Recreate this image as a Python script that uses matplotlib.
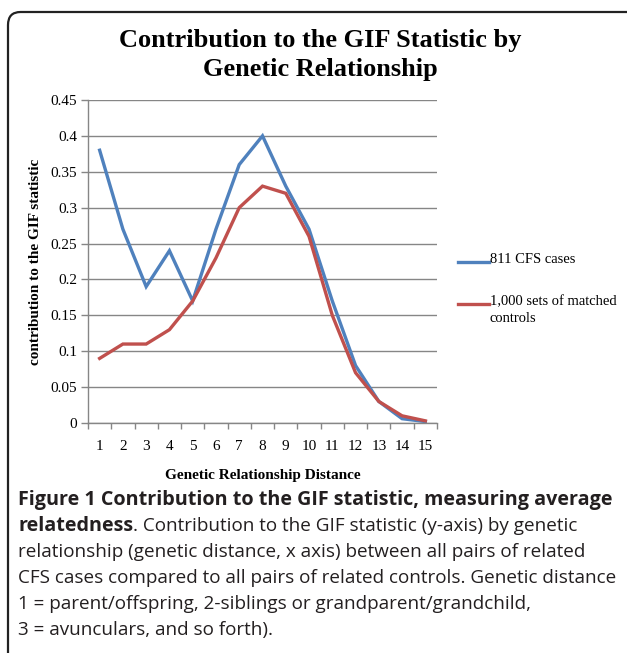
import matplotlib
matplotlib.use('Agg')
import matplotlib.pyplot as plt
from matplotlib.patches import FancyBboxPatch
from matplotlib.lines import Line2D
import numpy as np

# data
distance = list(range(1, 16))
cfs_cases = [0.38, 0.27, 0.19, 0.24, 0.17, 0.27, 0.36, 0.40, 0.33, 0.27,
             0.17, 0.08, 0.03, 0.006, 0.002]
controls = [0.09, 0.11, 0.11, 0.13, 0.17, 0.23, 0.30, 0.33, 0.32, 0.26,
            0.15, 0.07, 0.03, 0.01, 0.003]
series_names = ['811 CFS cases', '1,000 sets of matched\ncontrols']
yticks = np.arange(0, 0.451, 0.05)
ytick_labels = ['0', '0.05', '0.1', '0.15', '0.2', '0.25', '0.3', '0.35', '0.4', '0.45']

title = 'Contribution to the GIF Statistic by\nGenetic Relationship'
caption_bold = 'Figure 1 Contribution to the GIF statistic, measuring average'
caption_bold2 = 'relatedness'
caption_rest = ['. Contribution to the GIF statistic (y-axis) by genetic',
                'relationship (genetic distance, x axis) between all pairs of related',
                'CFS cases compared to all pairs of related controls. Genetic distance',
                '1 = parent/offspring, 2-siblings or grandparent/grandchild,',
                '3 = avunculars, and so forth).']

W, H = 627, 653
fig = plt.figure(figsize=(W / 100, H / 100), dpi=100)
serif = 'Liberation Serif'
sans = 'Open Sans'

# rounded frame (bottom and right run off the picture)
frame = FancyBboxPatch((8 / W, 1 - 700 / H), 700 / W, 688 / H,
                       boxstyle='round,pad=0,rounding_size=0.02',
                       transform=fig.transFigure, fill=False,
                       edgecolor='#222222', linewidth=1.6)
fig.patches.append(frame)

ax = fig.add_axes([88 / W, 1 - 423 / H, 349 / W, 323 / H])
blue, red = '#4f81bd', '#c0504d'
ax.plot(distance, cfs_cases, color=blue, lw=2.4, solid_joinstyle='miter')
ax.plot(distance, controls, color=red, lw=2.4, solid_joinstyle='miter')

ax.set_xlim(0.5, 15.5)
ax.set_ylim(0, 0.45)
ax.set_yticks(yticks)
ax.set_yticklabels(ytick_labels)
ax.set_xticks(distance)
ax.set_xticks(np.arange(0.5, 15.6, 1), minor=True)
ax.tick_params(axis='x', which='major', length=0, pad=12, labelsize=11)
ax.tick_params(axis='x', which='minor', length=4, color='#868686', width=1, direction='out')
ax.tick_params(axis='y', length=5, color='#868686', width=1, pad=3, labelsize=11)
for lab in ax.get_xticklabels() + ax.get_yticklabels():
    lab.set_fontfamily(serif)
ax.grid(axis='y', color='#868686', lw=1)
ax.set_axisbelow(True)
for s in ['top', 'right']:
    ax.spines[s].set_visible(False)
for s in ['left', 'bottom']:
    ax.spines[s].set_color('#868686')
    ax.spines[s].set_linewidth(1)

ax.set_xlabel('Genetic Relationship Distance', family=serif, fontweight='bold',
              fontsize=11, labelpad=12)
ax.set_ylabel('contribution to the GIF statistic', family=serif, fontweight='bold',
              fontsize=11, labelpad=6)

# legend, drawn by hand so the handle lines up with the first text line
for (name, col, ypx) in [(series_names[0], blue, 262), (series_names[1], red, 304)]:
    fig.add_artist(Line2D([458 / W, 489 / W], [1 - ypx / H] * 2, color=col, lw=2.4,
                          transform=fig.transFigure))
    fig.text(490 / W, 1 - (ypx - 9) / H, name, family=serif, fontsize=10.5,
             va='top', ha='left', linespacing=1.45)

fig.text(320 / W, 1 - 55 / H, title, ha='center', va='center', family=serif,
         fontweight='bold', fontsize=19, linespacing=1.38)

# caption
cap_color = '#231f20'
cb = 14.2   # bold part
cr = 13.6   # regular part
x0 = 18 / W
fig.text(x0, 1 - 500 / H, caption_bold, family=sans, fontweight='bold',
         fontsize=cb, color=cap_color, va='center')
t2 = fig.text(x0, 1 - 526 / H, caption_bold2, family=sans, fontweight='bold',
              fontsize=cb, color=cap_color, va='center')
r = fig.canvas.get_renderer()
bb = t2.get_window_extent(renderer=r)
fig.text(bb.x1 / W, 1 - 526 / H, caption_rest[0], family=sans, fontsize=cr,
         color=cap_color, va='center')
for i, line in enumerate(caption_rest[1:]):
    fig.text(x0, 1 - (552 + 26 * i) / H, line, family=sans, fontsize=cr,
             color=cap_color, va='center')

fig.savefig('out.png', dpi=100)
